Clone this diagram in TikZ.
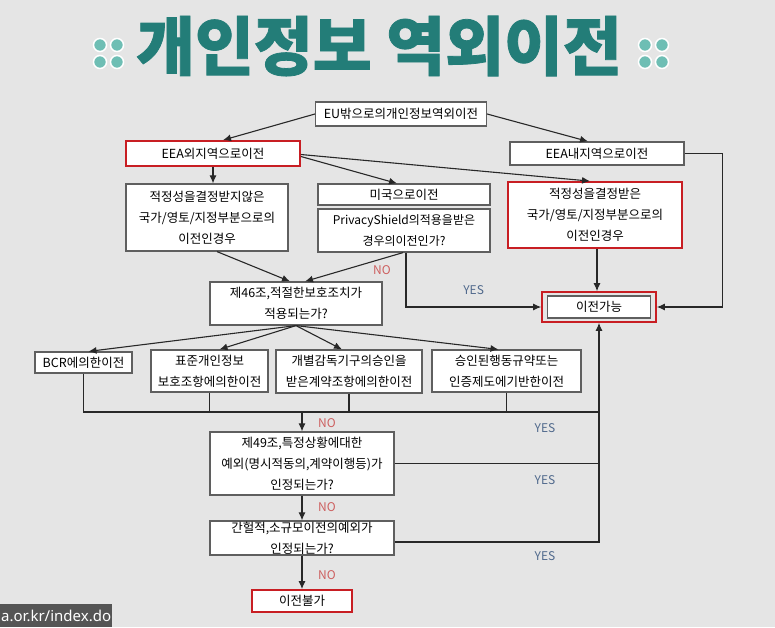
\documentclass[tikz,border=0pt]{standalone}
\usepackage{fontspec}
\newfontfamily\cjk{Noto Sans CJK KR}
\newfontfamily\titlefont{Noto Sans CJK KR}[BoldFeatures={FakeBold=1.2}]
\newfontfamily\urlfont{Noto Sans}
\usetikzlibrary{arrows.meta}
\definecolor{paper}{RGB}{229,229,229}
\definecolor{boxline}{RGB}{95,95,95}
\definecolor{alertred}{RGB}{200,30,35}
\definecolor{linegray}{RGB}{40,40,40}
\definecolor{titleteal}{RGB}{35,125,120}
\definecolor{dotteal}{RGB}{110,190,180}
\definecolor{nored}{RGB}{205,95,95}
\definecolor{yesblue}{RGB}{80,105,140}
\definecolor{urlgray}{RGB}{85,85,85}

\begin{document}
\begin{tikzpicture}[x=1pt, y=-1pt,
    box/.style={draw=boxline, fill=white, line width=1.2pt, align=center, inner sep=0pt,
                font=\cjk\fontsize{12.5}{21}\selectfont},
    redbox/.style={box, draw=alertred, line width=1.8pt},
    arr/.style={-{Latex[length=8pt, width=7pt]}, draw=linegray, line width=1.1pt},
    wire/.style={draw=linegray, line width=1.1pt},
    nolabel/.style={text=nored, font=\cjk\fontsize{12}{12}\selectfont},
    yeslabel/.style={text=yesblue, font=\cjk\fontsize{12}{12}\selectfont}]

    \useasboundingbox (0,0) rectangle (775,627);
    \fill[paper] (0,0) rectangle (775,627);

    % Title
    \node at (379, 46) [text=titleteal, font=\titlefont\bfseries\fontsize{64}{64}\selectfont] (title) {개인정보 역외이전};
    \foreach \dx in {100, 117, 645, 662}
        \foreach \dy in {45, 62}
            \fill[dotteal, draw=white, line width=1.5pt] (\dx, \dy) circle (6.5);

    % Top
    \node at (401, 114) [box, minimum width=171, minimum height=24] (eu) {EU밖으로의개인정보역외이전};
    \node at (213, 153.5) [redbox, minimum width=174, minimum height=25] (eeaout) {EEA외지역으로이전};
    \node at (597, 153.5) [box, minimum width=174, minimum height=23] (eeain) {EEA내지역으로이전};

    \node at (207, 217.5) [box, minimum width=162, minimum height=67] (noadeq) {적정성을결정받지않은\\국가/영토/지정부분으로의\\이전인경우};
    \node at (404, 194.5) [box, minimum width=172, minimum height=21] (usa) {미국으로이전};
    \node at (404, 230.5) [box, minimum width=172, minimum height=43, font=\cjk\fontsize{12}{21}\selectfont] (shield) {PrivacyShield의적용을받은\\경우의이전인가?};
    \node at (595, 215) [redbox, minimum width=174, minimum height=66] (adeq) {적정성을결정받은\\국가/영토/지정부분으로의\\이전인경우};

    \node at (599, 307) [draw=alertred, line width=1.6pt, minimum width=114, minimum height=30] (okframe) {};
    \node at (599, 307) [box, minimum width=103, minimum height=22] (ok) {이전가능};

    \node at (296, 303.5) [box, minimum width=172, minimum height=43] (art46) {제46조,적절한보호조치가\\적용되는가?};

    % Safeguards
    \node at (83.5, 362.5) [box, minimum width=97, minimum height=21] (bcr) {BCR에의한이전};
    \node at (209.5, 371) [box, minimum width=117, minimum height=42] (scc) {표준개인정보\\보호조항에의한이전};
    \node at (349, 371.5) [box, minimum width=146, minimum height=43] (contract) {개별감독기구의승인을\\받은계약조항에의한이전};
    \node at (506.5, 371) [box, minimum width=149, minimum height=42] (code) {승인된행동규약또는\\인증제도에기반한이전};

    % Derogations
    \node at (302, 463.5) [box, minimum width=184, minimum height=63] (art49) {제49조,특정상황에대한\\예외(명시적동의,계약이행등)가\\인정되는가?};
    \node at (302, 538) [box, minimum width=184, minimum height=34] (minor) {간헐적,소규모이전의예외가\\인정되는가?};
    \node at (302, 601) [redbox, minimum width=100, minimum height=22] (nogo) {이전불가};

    \coordinate (merge) at (302, 412);

    \draw[arr] (eu.west) -- ([xshift=10pt]eeaout.north);
    \draw[arr] (eu.east) -- ([xshift=-9pt]eeain.north);

    \draw[arr] (eeaout.south) -- (eeaout.south |- noadeq.north);
    \draw[arr] ([yshift=-3pt]eeaout.east) -- ([xshift=-7pt]usa.north);
    \draw[arr] ([yshift=-1pt]eeaout.east) -- ([xshift=-5pt]adeq.north);

    \draw[arr] (eeain.east) -- ++(38, 0) |- (okframe.east);
    \draw[arr] ([xshift=2pt]adeq.south) -- ([xshift=2pt]adeq.south |- okframe.north);

    \draw[arr] ([xshift=2pt]shield.south) |- (okframe.west) node[pos=0.75, above=8pt, yeslabel] {YES};
    \draw[arr] ([xshift=-1pt]shield.south) -- ([xshift=9pt]art46.north);
    \draw[arr] ([xshift=10pt]noadeq.south) -- ([xshift=-6pt]art46.north);
    \node at (382, 270) [nolabel] (no46) {NO};

    \draw[arr] (art46.south) -- ([xshift=5pt]bcr.north);
    \draw[arr] (art46.south) -- ([xshift=10pt]scc.north);
    \draw[arr] (art46.south) -- ([xshift=-7pt]contract.north);
    \draw[arr] (art46.south) -- ([xshift=-8pt]code.north);

    \draw[wire] (bcr.south) -- (bcr.south |- merge) -- (merge -| okframe.south);
    \foreach \src in {scc, contract, code}
        \draw[wire] (\src.south) -- (\src.south |- merge);
    \draw[arr] (merge) -- (art49.north);
    \draw[wire] (art49.east) -- (art49.east -| okframe.south);
    \draw[arr] ([yshift=-4pt]minor.east) -| (okframe.south);

    \draw[arr] (art49.south) -- (minor.north);
    \draw[arr] (minor.south) -- (nogo.north);

    \node at (327, 423) [nolabel] (no49) {NO};
    \node at (327, 507) [nolabel] (nominor) {NO};
    \node at (327, 575) [nolabel] (nonogo) {NO};
    \node at (545, 428) [yeslabel] (yes46) {YES};
    \node at (545, 480) [yeslabel] (yes49) {YES};
    \node at (545, 556) [yeslabel] (yesminor) {YES};

    % source
    \node at (0, 615.5) [anchor=west, fill=urlgray, text=white, inner xsep=1pt, minimum height=23,
        font=\urlfont\fontsize{15}{15}\selectfont] (url) {a.or.kr/index.do};

\end{tikzpicture}
\end{document}
